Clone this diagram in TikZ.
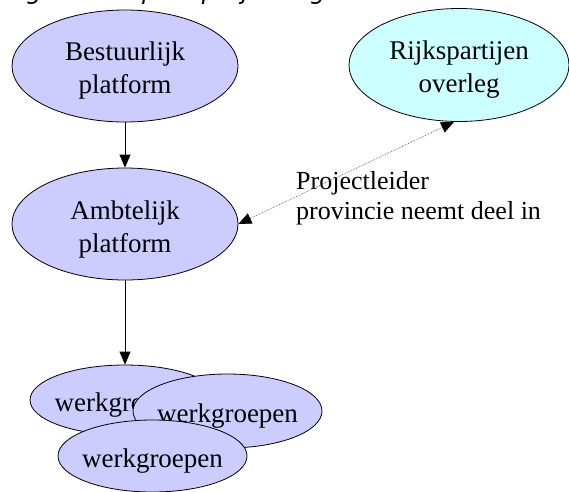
\documentclass[tikz,border=0pt]{standalone}
\usepackage{fontspec}
\setmainfont{Liberation Serif}
\newfontfamily\capfont{DejaVu Sans}
\usetikzlibrary{shapes.geometric,arrows.meta}
\definecolor{lav}{HTML}{CCCCFF}
\definecolor{aqua}{HTML}{CCFFFF}
\begin{document}
\begin{tikzpicture}[x=1pt,y=-1pt,
  oval/.style={ellipse, draw=black, line width=0.8pt, inner sep=0pt},
  txt/.style={font=\fontsize{27}{33}\selectfont, align=center, inner sep=0pt},
  arr/.style={-{Triangle[length=13pt,width=11pt]}, line width=0.8pt},
  darr/.style={{Triangle[length=13pt,width=11pt,color=black]}-{Triangle[length=13pt,width=11pt,color=black]}, densely dotted, draw=black!60, line width=0.7pt}]
\useasboundingbox (0,0) rectangle (569,491);
\begin{scope}
\clip (0,0) rectangle (569,491);
\node[anchor=south west, font=\capfont\itshape\fontsize{24}{28}\selectfont, inner sep=0pt, text depth=6pt] (cap) at (6,5.5) {Figuur 2: Opzet projectorganisatie Ruimte voor de Rivier};
\end{scope}
\node[oval, fill=lav, minimum width=226pt, minimum height=112pt,
  label={[txt, yshift=-5pt]center:{Bestuurlijk\\platform}}] (bp) at (125,66) {};
\node[oval, fill=aqua, minimum width=220pt, minimum height=113pt,
  label={[txt, yshift=-5pt]center:{Rijkspartijen\\overleg}}] (rk) at (459,65) {};
\node[oval, fill=lav, minimum width=226pt, minimum height=112pt,
  label={[txt, yshift=-5pt]center:{Ambtelijk\\platform}}] (ap) at (125,224) {};
\node[oval, fill=lav, minimum width=190pt, minimum height=70pt,
  label={[txt, yshift=-5pt]center:werkgroepen}] (w1) at (125,400) {};
\node[oval, fill=lav, minimum width=189pt, minimum height=74pt,
  label={[txt, yshift=-5pt]center:werkgroepen}] (w2) at (227.5,411) {};
\node[oval, fill=lav, minimum width=189pt, minimum height=72pt,
  label={[txt, yshift=-5pt]center:werkgroepen}] (w3) at (152.5,456) {};
\node[anchor=north west, align=left, inner sep=0pt, font=\fontsize{26}{30}\selectfont] (lbl) at (296,171) {Projectleider\\provincie neemt deel in};
\draw[arr] (bp) -- (ap);
\draw[arr] (ap) -- (w1);
\draw[darr] (ap.east) -- (rk.265);
\end{tikzpicture}
\end{document}
